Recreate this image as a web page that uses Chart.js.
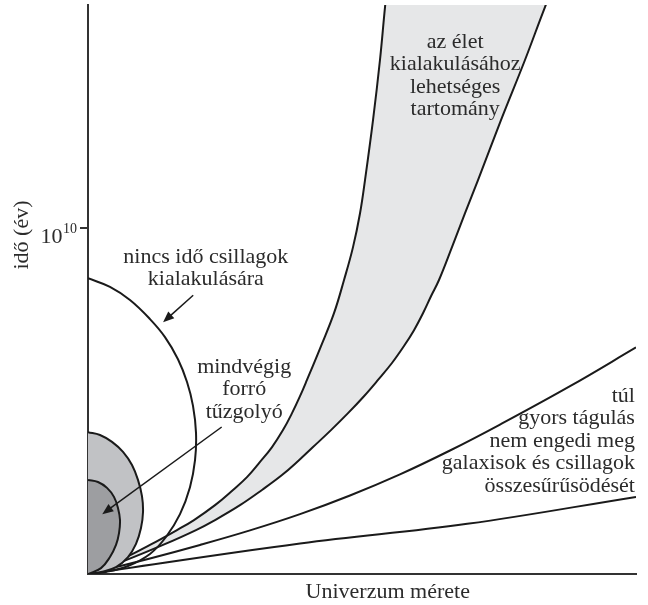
<!DOCTYPE html>
<html lang="hu">
<head>
<meta charset="UTF-8">
<title>Univerzum mérete</title>
<script src="https://cdn.jsdelivr.net/npm/chart.js"></script>
<style>
  html, body { margin: 0; padding: 0; background: #fff; }
  canvas { display: block; }
</style>
</head>
<body>
<canvas id="chart" width="648" height="605"></canvas>
<script>
// idő tengely: 10^9 év egységben, méret: önkényes egység (0-100)
const nincsX = [0, 4.01, 7.66, 11.31, 14.05, 16.42, 18.07, 19.16, 19.71, 19.53, 18.61, 16.79, 14.23, 11.31, 7.30, 3.28, 0];
const nincsY = [8.55, 8.30, 7.92, 7.37, 6.85, 6.21, 5.55, 4.86, 4.08, 3.29, 2.51, 1.73, 1.07, 0.58, 0.23, 0.06, 0];

const vilagosX = [0, 2.19, 4.38, 6.39, 8.03, 9.12, 9.85, 10.04, 9.67, 8.76, 7.30, 5.11, 2.37, 0];
const vilagosY = [4.10, 4.02, 3.82, 3.53, 3.15, 2.72, 2.25, 1.79, 1.33, 0.87, 0.49, 0.20, 0.06, 0];

const sotetX = [0, 1.82, 3.47, 4.74, 5.47, 5.84, 5.66, 5.11, 4.01, 2.37, 0];
const sotetY = [2.72, 2.66, 2.49, 2.23, 1.91, 1.56, 1.18, 0.84, 0.49, 0.17, 0];

const eletBalX = [0, 5.84, 11.31, 16.24, 19.34, 23.18, 26.46, 29.01, 31.39, 33.58, 35.58, 37.23, 38.69, 39.96, 42.52, 44.89, 46.72, 48.36, 49.64, 50.55, 52.01, 53.28, 54.20, 54.74];
const eletBalY = [0, 0.40, 0.84, 1.27, 1.56, 1.99, 2.43, 2.80, 3.24, 3.67, 4.16, 4.65, 5.14, 5.61, 6.59, 7.54, 8.50, 9.45, 10.43, 11.39, 13.12, 14.86, 16.39, 17.17];
const eletJobbX = [0, 6.93, 13.69, 19.71, 23.18, 27.74, 31.75, 35.40, 38.50, 41.06, 44.34, 47.45, 50.36, 52.92, 55.47, 57.66, 59.49, 61.13, 62.59, 64.05, 66.42, 68.80, 71.17, 75.36, 79.74, 83.39, 85.40];
const eletJobbY = [0, 0.40, 0.84, 1.27, 1.56, 1.99, 2.43, 2.86, 3.29, 3.67, 4.16, 4.65, 5.14, 5.61, 6.10, 6.59, 7.05, 7.54, 8.03, 8.50, 9.45, 10.43, 11.39, 13.12, 14.86, 16.39, 17.17];

const gyorsFelsoX = [0, 11.31, 20.44, 29.56, 38.69, 47.81, 56.93, 66.06, 75.18, 87.96, 100];
const gyorsFelsoY = [0, 0.45, 0.84, 1.26, 1.73, 2.27, 2.88, 3.57, 4.32, 5.43, 6.55];
const gyorsAlsoX = [0, 38.7, 69.2, 100];
const gyorsAlsoY = [0, 0.88, 1.45, 2.23];

const yMax = 16.45;
const tizMilliard = 10;

const VONAL = '#1a1a1a';
const SZOVEG = '#2b2b2b';
const BETU = '"Liberation Serif", "Times New Roman", serif';

function pontok(xs, ys) {
    return xs.map((x, i) => ({ x: x, y: ys[i] }));
}

const eletTerulet = pontok(eletBalX, eletBalY).concat(pontok(eletJobbX, eletJobbY).reverse());

// feliratok adatkoordinátákban
const feliratok = [
    { sorok: ['nincs idő csillagok', 'kialakulására'], x: 21.5, y: 9.16, igazit: 'center' },
    { sorok: ['mindvégig', 'forró', 'tűzgolyó'], x: 28.5, y: 5.98, igazit: 'center' },
    { sorok: ['az élet', 'kialakulásához', 'lehetséges', 'tartomány'], x: 67.0, y: 15.38, igazit: 'center' },
    { sorok: ['túl', 'gyors tágulás', 'nem engedi meg', 'galaxisok és csillagok', 'összesűrűsödését'], x: 99.8, y: 5.15, igazit: 'right' }
];
const nyilak = [
    { x1: 19.2, y1: 8.06, x2: 13.7, y2: 7.28 },
    { x1: 24.4, y1: 4.25, x2: 2.6, y2: 1.73 }
];

function vonal(adat, sorrend) {
    return {
        data: adat, showLine: true, fill: false, borderColor: VONAL, borderWidth: 2,
        pointRadius: 0, tension: 0.4, order: sorrend
    };
}

const rajzolo = {
    id: 'rajzolo',
    afterDraw(chart) {
        const ctx = chart.ctx;
        const xs = chart.scales.x, ys = chart.scales.y;
        ctx.save();
        ctx.fillStyle = SZOVEG;
        ctx.font = '22px ' + BETU;
        ctx.textBaseline = 'middle';
        feliratok.forEach(f => {
            ctx.textAlign = f.igazit;
            const px = xs.getPixelForValue(f.x);
            const py = ys.getPixelForValue(f.y);
            f.sorok.forEach((s, i) => ctx.fillText(s, px, py + i * 22.5));
        });

        // nyilak
        ctx.strokeStyle = VONAL;
        ctx.fillStyle = VONAL;
        ctx.lineWidth = 1.5;
        nyilak.forEach(n => {
            const ax = xs.getPixelForValue(n.x1), ay = ys.getPixelForValue(n.y1);
            const bx = xs.getPixelForValue(n.x2), by = ys.getPixelForValue(n.y2);
            const sz = Math.atan2(by - ay, bx - ax);
            const h = 11, w = 4.5;
            ctx.beginPath();
            ctx.moveTo(ax, ay);
            ctx.lineTo(bx - Math.cos(sz) * h * 0.8, by - Math.sin(sz) * h * 0.8);
            ctx.stroke();
            ctx.beginPath();
            ctx.moveTo(bx, by);
            ctx.lineTo(bx - Math.cos(sz) * h - Math.sin(sz) * w, by - Math.sin(sz) * h + Math.cos(sz) * w);
            ctx.lineTo(bx - Math.cos(sz) * h + Math.sin(sz) * w, by - Math.sin(sz) * h - Math.cos(sz) * w);
            ctx.closePath();
            ctx.fill();
        });

        // 10^10 felirat
        ctx.fillStyle = SZOVEG;
        const ty = ys.getPixelForValue(tizMilliard);
        ctx.textAlign = 'right';
        ctx.textBaseline = 'alphabetic';
        ctx.font = '14px ' + BETU;
        ctx.fillText('10', xs.left - 11, ty + 5);
        const supW = ctx.measureText('10').width;
        ctx.font = '22px ' + BETU;
        ctx.fillText('10', xs.left - 11 - supW - 0.5, ty + 15);

        // tengelyfeliratok
        ctx.textAlign = 'center';
        ctx.textBaseline = 'middle';
        ctx.fillText('Univerzum mérete', xs.getPixelForValue(54.7), ys.bottom + 18);
        ctx.translate(22, ys.getPixelForValue(9.8));
        ctx.rotate(-Math.PI / 2);
        ctx.fillText('idő (év)', 0, 0);
        ctx.restore();
    }
};

new Chart(document.getElementById('chart'), {
    type: 'scatter',
    data: {
        datasets: [
            { data: eletTerulet, showLine: true, fill: 'shape', backgroundColor: '#e6e7e8',
              borderColor: 'rgba(0,0,0,0)', borderWidth: 0, pointRadius: 0, tension: 0.4, order: 9 },
            vonal(pontok(eletBalX, eletBalY), 5),
            vonal(pontok(eletJobbX, eletJobbY), 5),
            vonal(pontok(gyorsFelsoX, gyorsFelsoY), 5),
            vonal(pontok(gyorsAlsoX, gyorsAlsoY), 5),
            vonal(pontok(nincsX, nincsY), 4),
            Object.assign(vonal(pontok(vilagosX, vilagosY), 3), { fill: 'shape', backgroundColor: '#c1c2c5' }),
            Object.assign(vonal(pontok(sotetX, sotetY), 2), { fill: 'shape', backgroundColor: '#9d9ea1' })
        ]
    },
    options: {
        responsive: false,
        animation: false,
        events: [],
        layout: { padding: { top: 5, right: 12, left: 0, bottom: 0 } },
        plugins: { legend: { display: false }, tooltip: { enabled: false } },
        scales: {
            x: {
                type: 'linear', min: 0, max: 100,
                ticks: { display: false },
                grid: { drawOnChartArea: false, drawTicks: false },
                border: { color: '#333', width: 2 },
                afterFit: s => { s.height = 31; }
            },
            y: {
                type: 'linear', min: 0, max: yMax,
                afterBuildTicks: s => { s.ticks = [{ value: tizMilliard }]; },
                ticks: { display: false },
                grid: { drawOnChartArea: false, drawTicks: true, tickLength: 8, color: '#333', lineWidth: 2 },
                border: { color: '#333', width: 2 },
                afterFit: s => { s.width = 88; }
            }
        }
    },
    plugins: [rajzolo]
});
</script>
</body>
</html>
